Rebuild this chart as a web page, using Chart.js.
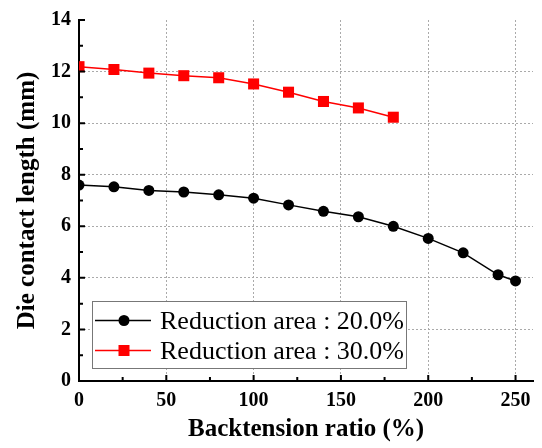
<!DOCTYPE html>
<html>
<head>
<meta charset="utf-8">
<script src="https://cdn.jsdelivr.net/npm/chart.js@4.4.0/dist/chart.umd.min.js"></script>
<style>
  html, body { margin: 0; padding: 0; background: #fff; }
  #wrap { width: 542px; height: 448px; }
</style>
</head>
<body>
<div id="wrap"><canvas id="chart"></canvas></div>
<script>
// ---------- data ----------
const ratio20 = [0, 20, 40, 60, 80, 100, 120, 140, 160, 180, 200, 220, 240, 250];
const length20 = [7.60, 7.53, 7.39, 7.33, 7.22, 7.09, 6.83, 6.58, 6.37, 6.00, 5.53, 4.97, 4.12, 3.88];

const ratio30 = [0, 20, 40, 60, 80, 100, 120, 140, 160, 180];
const length30 = [12.19, 12.08, 11.94, 11.84, 11.76, 11.52, 11.20, 10.84, 10.59, 10.23];

const xTicks = [0, 50, 100, 150, 200, 250];
const yTicks = [0, 2, 4, 6, 8, 10, 12, 14];

const serif = "'Liberation Serif', 'Times New Roman', serif";

// inward tick marks (major + minor) on both axes
const innerTicks = {
  id: 'innerTicks',
  afterDraw(chart) {
    const { ctx, chartArea, scales: { x, y } } = chart;
    ctx.save();
    ctx.strokeStyle = '#000';
    ctx.lineWidth = 2;
    ctx.beginPath();
    for (let v = 0; v <= 250; v += 25) {
      const px = x.getPixelForValue(v);
      const len = v % 50 === 0 ? 6 : 4;
      ctx.moveTo(px, chartArea.bottom);
      ctx.lineTo(px, chartArea.bottom - len);
    }
    for (let v = 0; v <= 14; v += 1) {
      const py = y.getPixelForValue(v);
      const len = v % 2 === 0 ? 6 : 4;
      ctx.moveTo(chartArea.left, py);
      ctx.lineTo(chartArea.left + len, py);
    }
    ctx.stroke();
    ctx.restore();
  }
};

// boxed legend sitting inside the plot
const boxLegend = {
  id: 'boxLegend',
  afterDraw(chart) {
    const { ctx, chartArea } = chart;
    const left = chartArea.left + 13;
    const top = chartArea.bottom - 80;
    const w = 314, h = 67;
    ctx.save();
    ctx.fillStyle = '#fff';
    ctx.fillRect(left, top, w, h);
    ctx.strokeStyle = '#777';
    ctx.lineWidth = 1;
    ctx.strokeRect(left + 0.5, top + 0.5, w, h);
    ctx.font = '26px ' + serif;
    ctx.textBaseline = 'alphabetic';
    chart.data.datasets.forEach((ds, i) => {
      const cy = top + 19.5 + i * 30;
      const x0 = left + 3, x1 = left + 59, cx = left + 32;
      ctx.strokeStyle = ds.borderColor;
      ctx.lineWidth = 1.5;
      ctx.beginPath();
      ctx.moveTo(x0, cy); ctx.lineTo(x1, cy);
      ctx.stroke();
      ctx.fillStyle = ds.pointBackgroundColor;
      if (ds.pointStyle === 'rect') {
        ctx.fillRect(cx - 5.5, cy - 5.5, 11, 11);
      } else {
        ctx.beginPath();
        ctx.arc(cx, cy, 5.5, 0, Math.PI * 2);
        ctx.fill();
      }
      ctx.fillStyle = '#000';
      ctx.fillText(ds.label, left + 68, cy + 8.5);
    });
    ctx.restore();
  }
};

new Chart(document.getElementById('chart'), {
  type: 'line',
  data: {
    datasets: [
      {
        label: 'Reduction area : 20.0%',
        data: ratio20.map((v, i) => ({ x: v, y: length20[i] })),
        borderColor: '#000',
        borderWidth: 1.5,
        pointStyle: 'circle',
        pointRadius: 5.5,
        pointBackgroundColor: '#000',
        pointBorderColor: '#000',
        pointBorderWidth: 0,
        clip: 0
      },
      {
        label: 'Reduction area : 30.0%',
        data: ratio30.map((v, i) => ({ x: v, y: length30[i] })),
        borderColor: '#ff0000',
        borderWidth: 1.5,
        pointStyle: 'rect',
        pointRadius: 7.8,
        pointBackgroundColor: '#ff0000',
        pointBorderColor: '#ff0000',
        pointBorderWidth: 0,
        clip: 0
      }
    ]
  },
  options: {
    responsive: true,
    maintainAspectRatio: false,
    animation: false,
    layout: { padding: { top: 17, right: 9, bottom: 0, left: 0 } },
    plugins: { legend: { display: false }, tooltip: { enabled: false } },
    scales: {
      x: {
        type: 'linear',
        min: 0,
        max: 260,
        afterBuildTicks: s => { s.ticks = xTicks.map(v => ({ value: v })); },
        afterFit: s => { s.height = 67; },
        grid: {
          color: '#aaa',
          lineWidth: 1,
          drawTicks: false
        },
        border: { color: '#000', width: 2, dash: [2, 2] },
        ticks: {
          color: '#000',
          padding: 8,
          maxRotation: 0,
          font: { family: serif, size: 20, weight: 'bold' }
        },
        title: {
          display: true,
          text: 'Backtension ratio (%)',
          color: '#000',
          padding: { top: 0, bottom: 3 },
          font: { family: serif, size: 25, weight: 'bold' }
        }
      },
      y: {
        type: 'linear',
        min: 0,
        max: 14,
        afterBuildTicks: s => { s.ticks = yTicks.map(v => ({ value: v })); },
        afterFit: s => { s.width = 79; },
        grid: {
          color: ctx => (ctx.tick && ctx.tick.value === 14 ? 'rgba(0,0,0,0)' : '#aaa'),
          lineWidth: 1,
          drawTicks: false
        },
        border: { color: '#000', width: 2, dash: [2, 2] },
        ticks: {
          color: '#000',
          padding: 8,
          font: { family: serif, size: 20, weight: 'bold' }
        },
        title: {
          display: true,
          text: 'Die contact length (mm)',
          color: '#000',
          padding: { top: 13, bottom: 0 },
          font: { family: serif, size: 25, weight: 'bold' }
        }
      }
    }
  },
  plugins: [innerTicks, boxLegend]
});
</script>
</body>
</html>
